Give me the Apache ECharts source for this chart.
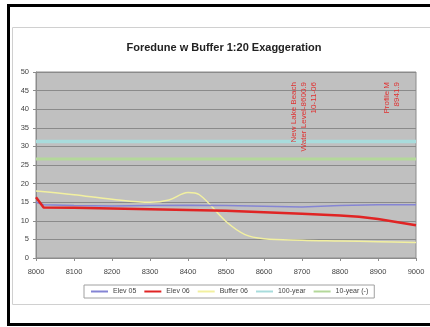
<!DOCTYPE html>
<html><head><meta charset="utf-8">
<script src="https://cdn.jsdelivr.net/npm/echarts@6/dist/echarts.min.js"></script>
<style>html,body{margin:0;padding:0;background:#fff}#c{width:430px;height:327px}</style>
</head><body><div id="c"></div>
<script>
const titleText = 'Foredune w Buffer 1:20 Exaggeration';
const xTicks = [8000, 8100, 8200, 8300, 8400, 8500, 8600, 8700, 8800, 8900, 9000];
const seriesNames = ['Elev 05', 'Elev 06', 'Buffer 06', '100-year', '10-year (-)'];
const elev05 = [[8000,15.0],[8020,14.3],[8100,14.1],[8200,14.0],[8300,14.1],[8400,14.2],[8500,14.1],[8600,13.9],[8700,13.7],[8800,14.1],[8900,14.3],[9000,14.3]];
const elev06 = [[8000,16.3],[8020,13.6],[8100,13.5],[8200,13.3],[8300,13.1],[8400,12.9],[8500,12.7],[8600,12.3],[8700,11.9],[8800,11.4],[8850,11.1],[8900,10.5],[9000,8.8]];
const buffer06 = [[8000,18.0],[8100,17.0],[8200,15.8],[8300,15.0],[8350,15.6],[8400,17.6],[8430,17.0],[8500,9.8],[8550,6.3],[8600,5.2],[8700,4.8],[8800,4.6],[8900,4.4],[9000,4.2]];
const year100 = [[8000,31.3],[9000,31.3]];
const year10 = [[8000,26.6],[9000,26.6]];
const annotations = [
  {x: 8705, text: 'New Lake Beach\nWater Level-8600.9\n10-11-06'},
  {x: 8937, text: 'Profile M\n8941.9'}
];
const colors = ['#8484d4', '#e02424', '#f2f0a0', '#a8dcdc', '#b4d89a'];
const widths = [1.5, 2.5, 1.5, 3.5, 3];

const chart = echarts.init(document.getElementById('c'));
const dataList = [elev05, elev06, buffer06, year100, year10];
const font = 'Liberation Sans, Arial, sans-serif';
const frame = [
  {type: 'line', shape: {x1: 8.5, y1: 5, x2: 8.5, y2: 325}, style: {stroke: '#000', lineWidth: 3}, z: 100, silent: true},
  {type: 'line', shape: {x1: 7, y1: 5.5, x2: 430, y2: 5.5}, style: {stroke: '#000', lineWidth: 3}, z: 100, silent: true},
  {type: 'line', shape: {x1: 7, y1: 324.5, x2: 430, y2: 324.5}, style: {stroke: '#000', lineWidth: 3}, z: 100, silent: true},
  {type: 'line', shape: {x1: 12.5, y1: 27.5, x2: 430, y2: 27.5}, style: {stroke: '#d0d0d0', lineWidth: 1}, z: 100, silent: true},
  {type: 'line', shape: {x1: 12.5, y1: 27.5, x2: 12.5, y2: 304.5}, style: {stroke: '#d0d0d0', lineWidth: 1}, z: 100, silent: true},
  {type: 'line', shape: {x1: 12.5, y1: 304.5, x2: 430, y2: 304.5}, style: {stroke: '#d0d0d0', lineWidth: 1}, z: 100, silent: true}
];
chart.setOption({
  animation: false,
  title: {text: titleText, left: 219, top: 37, textAlign: 'center',
    textStyle: {fontFamily: font, fontSize: 11, fontWeight: 'bold', color: '#222'}},
  grid: {left: 36, right: 14, top: 72, bottom: 69, show: true, backgroundColor: '#c0c0c0', borderColor: '#8c8c8c', borderWidth: 1},
  xAxis: {type: 'value', min: 8000, max: 9000, interval: 100,
    axisLine: {show: true, lineStyle: {color: '#8c8c8c'}},
    axisTick: {show: true, length: 3, lineStyle: {color: '#8c8c8c'}},
    splitLine: {show: false},
    axisLabel: {fontFamily: font, fontSize: 7.5, color: '#444', margin: 10, formatter: v => String(v)}},
  yAxis: {type: 'value', min: 0, max: 50, interval: 5,
    axisLine: {show: true, lineStyle: {color: '#8c8c8c'}},
    axisTick: {show: true, length: 3, lineStyle: {color: '#8c8c8c'}},
    splitLine: {show: true, lineStyle: {color: '#8a8a8a', width: 1}},
    axisLabel: {fontFamily: font, fontSize: 7.5, color: '#444', margin: 7}},
  legend: {data: seriesNames, left: 84, top: 285,
    borderColor: '#a0a0a0', borderWidth: 1, backgroundColor: '#fff', padding: [3, 6, 3, 6],
    itemWidth: 17, itemHeight: 6, itemGap: 7,
    itemStyle: {opacity: 0},
    textStyle: {fontFamily: font, fontSize: 7, color: '#444'}},
  series: dataList.map((d, i) => ({
    name: seriesNames[i], type: 'line', data: d, symbol: 'none', showSymbol: false,
    smooth: i === 2 ? 0.35 : false,
    z: [4, 5, 3, 2, 2][i],
    lineStyle: {color: colors[i], width: widths[i]},
    itemStyle: {color: colors[i]}
  })),
  graphic: frame
});

const extra = annotations.map(a => {
  const p = chart.convertToPixel({xAxisIndex: 0, yAxisIndex: 0}, [a.x, 50]);
  return {type: 'text', x: p[0], y: p[1] + 10, rotation: Math.PI / 2, z: 50, silent: true,
    style: {text: a.text, fill: '#e03030', fontFamily: font, fontSize: 8, lineHeight: 10, align: 'right', verticalAlign: 'middle'}};
});
chart.setOption({graphic: frame.concat(extra)}, {replaceMerge: ['graphic']});
</script></body></html>
